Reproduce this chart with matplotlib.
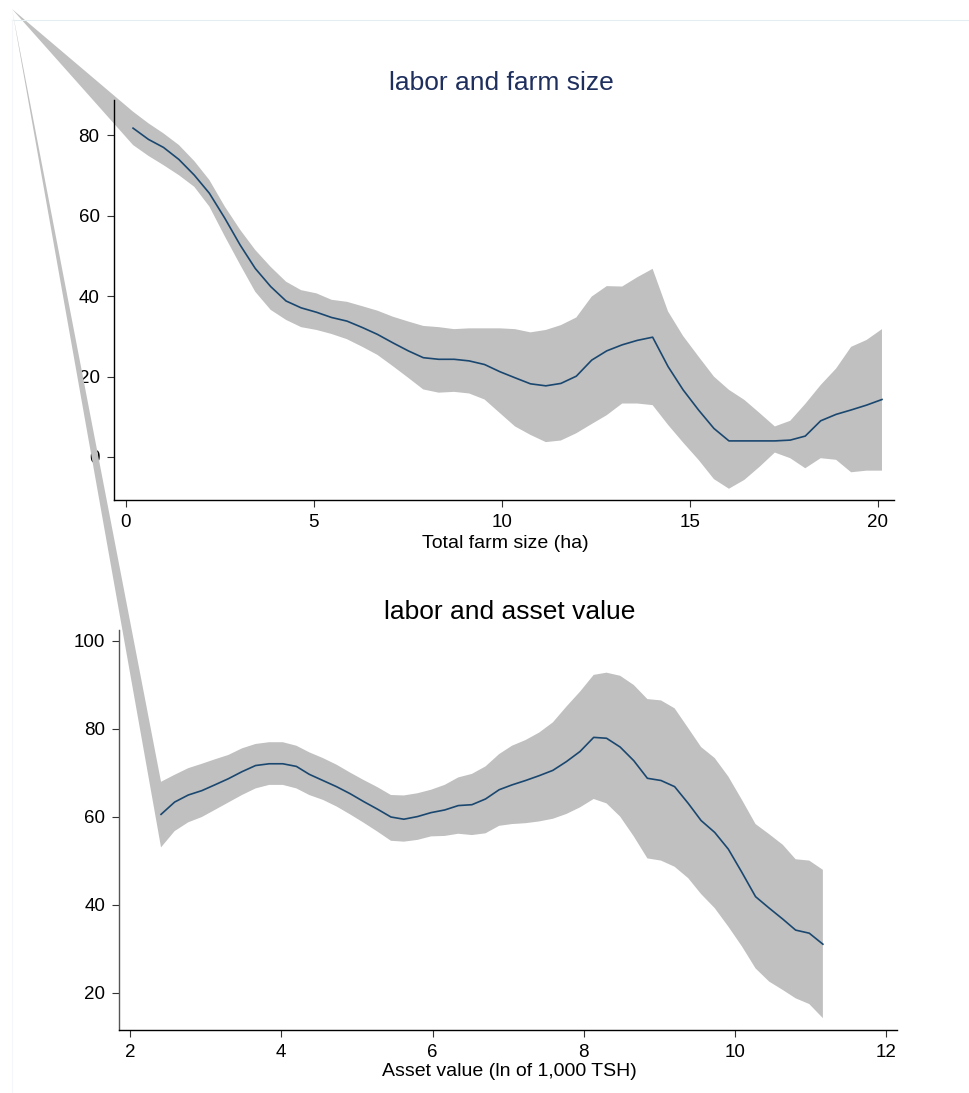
import matplotlib
matplotlib.use("Agg")
import matplotlib.pyplot as plt
from matplotlib.patches import Polygon
import numpy as np

plt.rcParams['font.family'] = ['Liberation Sans', 'DejaVu Sans']

# ---- labor vs total farm size (local polynomial fit with 95% CI) ----
farm_x = [0.19, 0.60, 1.00, 1.41, 1.82, 2.22, 2.63, 3.04, 3.44, 3.85,
          4.26, 4.66, 5.07, 5.47, 5.88, 6.29, 6.69, 7.10, 7.51, 7.91,
          8.32, 8.73, 9.13, 9.54, 9.95, 10.35, 10.76, 11.17, 11.57, 11.98,
          12.39, 12.79, 13.20, 13.60, 14.01, 14.42, 14.82, 15.23, 15.64, 16.04,
          16.45, 16.86, 17.26, 17.67, 18.07, 18.48, 18.89, 19.29, 19.70, 20.11]
farm_fit = [81.8, 79.0, 77.0, 74.0, 70.1, 65.6, 59.4, 52.7, 46.9, 42.4,
            38.8, 37.1, 36.0, 34.7, 33.8, 32.2, 30.5, 28.4, 26.4, 24.7,
            24.3, 24.3, 23.9, 23.0, 21.2, 19.7, 18.2, 17.7, 18.3, 20.1,
            24.1, 26.4, 27.9, 29.0, 29.8, 22.5, 16.7, 11.7, 7.1, 4.0,
            4.0, 4.0, 4.0, 4.2, 5.2, 9.0, 10.6, 11.7, 12.9, 14.3]
farm_hi = [85.9, 83.0, 80.5, 77.6, 73.6, 68.9, 62.3, 56.5, 51.5, 47.3,
           43.6, 41.5, 40.7, 39.1, 38.6, 37.5, 36.4, 34.9, 33.7, 32.6,
           32.3, 31.8, 32.0, 32.0, 32.0, 31.8, 31.0, 31.6, 32.8, 34.7,
           39.9, 42.5, 42.4, 44.7, 46.8, 36.2, 30.1, 25.0, 20.0, 16.7,
           14.2, 10.9, 7.6, 9.0, 13.2, 17.9, 22.0, 27.4, 29.1, 31.8]
farm_lo = [77.6, 74.9, 72.6, 70.1, 67.2, 62.3, 54.9, 47.8, 41.1, 36.6,
           34.1, 32.3, 31.6, 30.6, 29.3, 27.4, 25.4, 22.6, 19.7, 16.8,
           16.0, 16.2, 15.8, 14.3, 10.9, 7.6, 5.5, 3.7, 4.1, 5.9,
           8.2, 10.4, 13.3, 13.3, 12.9, 8.0, 3.6, -0.7, -5.5, -7.9,
           -5.7, -2.4, 1.1, -0.3, -2.8, -0.3, -0.7, -3.8, -3.4, -3.4]
farm_xticks = [0, 5, 10, 15, 20]
farm_yticks = [0, 20, 40, 60, 80]

# ---- labor vs asset value ----
asset_x = [2.41, 2.59, 2.77, 2.95, 3.12, 3.30, 3.48, 3.66, 3.84, 4.02,
           4.20, 4.37, 4.55, 4.73, 4.91, 5.09, 5.27, 5.45, 5.62, 5.80,
           5.98, 6.16, 6.34, 6.52, 6.70, 6.88, 7.05, 7.23, 7.41, 7.59,
           7.77, 7.95, 8.13, 8.30, 8.48, 8.66, 8.84, 9.02, 9.20, 9.38,
           9.55, 9.73, 9.91, 10.09, 10.27, 10.45, 10.63, 10.80, 10.98, 11.16]
asset_fit = [60.5, 63.3, 64.9, 65.9, 67.2, 68.6, 70.2, 71.6, 72.0, 72.0,
             71.4, 69.6, 68.2, 66.8, 65.2, 63.4, 61.7, 59.9, 59.4, 60.0,
             60.9, 61.5, 62.5, 62.7, 64.0, 66.1, 67.2, 68.2, 69.3, 70.5,
             72.5, 74.8, 78.0, 77.8, 75.8, 72.7, 68.7, 68.2, 66.8, 63.0,
             59.1, 56.4, 52.6, 47.3, 41.8, 39.2, 36.7, 34.2, 33.5, 31.0]
asset_hi = [67.9, 69.5, 71.0, 72.0, 73.0, 74.0, 75.5, 76.5, 76.9, 76.9,
            76.1, 74.6, 73.3, 71.8, 70.0, 68.3, 66.7, 64.9, 64.8, 65.3,
            66.1, 67.2, 68.9, 69.7, 71.4, 74.2, 76.1, 77.4, 79.1, 81.4,
            85.0, 88.4, 92.2, 92.7, 92.0, 89.9, 86.7, 86.4, 84.6, 80.1,
            75.8, 73.3, 69.1, 63.8, 58.3, 56.0, 53.6, 50.3, 50.0, 47.9]
asset_lo = [53.0, 56.7, 58.7, 59.9, 61.5, 63.2, 64.9, 66.4, 67.2, 67.2,
            66.4, 64.9, 63.8, 62.3, 60.5, 58.6, 56.6, 54.5, 54.3, 54.7,
            55.5, 55.6, 56.1, 55.8, 56.2, 57.9, 58.3, 58.5, 58.9, 59.5,
            60.6, 62.1, 64.0, 63.0, 60.0, 55.5, 50.5, 50.0, 48.6, 46.0,
            42.4, 39.2, 35.0, 30.5, 25.5, 22.5, 20.6, 18.7, 17.4, 14.2]
asset_xticks = [2, 4, 6, 8, 10, 12]
asset_yticks = [20, 40, 60, 80, 100]

W, H = 969, 1093
fig = plt.figure(figsize=(W / 100, H / 100), dpi=100)
fig.patch.set_facecolor('white')

BAND = '#c0c0c0'
LINE = '#1a476f'


def px_box(left, top, right, bottom):
    return [left / W, 1 - bottom / H, (right - left) / W, (bottom - top) / H]


def style_axes(ax, xticks, yticks, left_spine_color):
    for s in ('top', 'right'):
        ax.spines[s].set_visible(False)
    ax.spines['left'].set_color(left_spine_color)
    ax.spines['bottom'].set_color('black')
    for s in ('left', 'bottom'):
        ax.spines[s].set_linewidth(1.0)
    ax.set_xticks(xticks)
    ax.set_yticks(yticks)
    ax.tick_params(axis='both', direction='out', length=5, width=0.8,
                   colors='#333333', labelcolor='black', labelsize=13.5, pad=5)
    ax.set_facecolor('none')


# faint outer graph-region frame
fig.add_artist(plt.Line2D([12 / W, 1], [1 - 20 / H, 1 - 20 / H],
                          color='#e4edf2', lw=0.8))
fig.add_artist(plt.Line2D([12 / W, 12 / W], [1 - 20 / H, 0],
                          color='#f4f7f9', lw=0.8))

apex = (12 / W, 1 - 9 / H)


def band_with_apex(ax, x, lo, hi):
    # CI polygon whose outline is closed through a stray point near the corner
    xs = list(x) + list(x)[::-1]
    ys = list(hi) + list(lo)[::-1]
    disp = ax.transData.transform(np.column_stack([xs, ys]))
    figc = fig.transFigure.inverted().transform(disp)
    pts = np.vstack([[apex], figc])
    poly = Polygon(pts, closed=True, facecolor=BAND, edgecolor='none',
                   transform=fig.transFigure, clip_on=False, zorder=1)
    ax.add_patch(poly)


# top panel
ax1 = fig.add_axes(px_box(113.5, 100, 894, 500))
ax1.set_xlim(-0.33, 20.43)
ax1.set_ylim(-10.7, 88.8)
style_axes(ax1, farm_xticks, farm_yticks, 'black')
band_with_apex(ax1, farm_x, farm_lo, farm_hi)
ax1.plot(farm_x, farm_fit, color=LINE, lw=1.2, zorder=3)

# bottom panel
ax2 = fig.add_axes(px_box(118.9, 630, 897, 1030))
ax2.set_xlim(1.853, 12.14)
ax2.set_ylim(11.5, 102.4)
style_axes(ax2, asset_xticks, asset_yticks, '#555555')
band_with_apex(ax2, asset_x, asset_lo, asset_hi)
ax2.plot(asset_x, asset_fit, color=LINE, lw=1.2, zorder=3)

# titles and axis labels
fig.text(501 / W, 1 - 83 / H, 'labor and farm size', ha='center', va='center',
         fontsize=19, color='#1e2f5e')
fig.text(509.5 / W, 1 - 612 / H, 'labor and asset value', ha='center', va='center',
         fontsize=19, color='black')
fig.text(505.5 / W, 1 - 543 / H, 'Total farm size (ha)', ha='center', va='center',
         fontsize=14, color='black')
fig.text(509.7 / W, 1 - 1072 / H, 'Asset value (ln of 1,000 TSH)', ha='center',
         va='center', fontsize=14, color='black')

fig.savefig('out.png', dpi=100, facecolor='white')
